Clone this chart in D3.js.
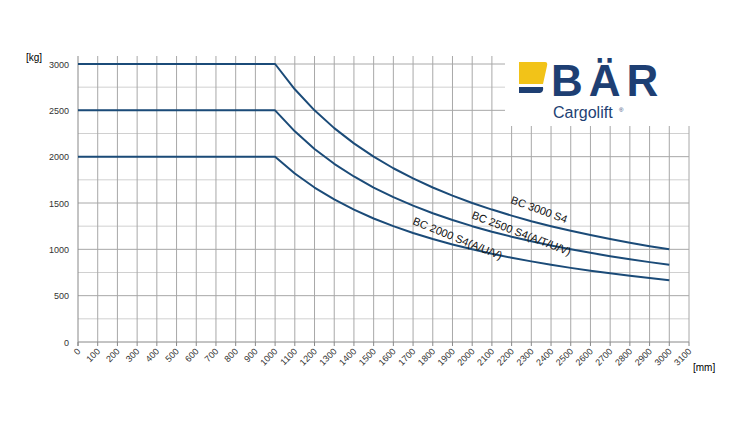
<!DOCTYPE html><html><head><meta charset="utf-8">
<script src="https://cdn.jsdelivr.net/npm/d3@7"></script>
<style>body{margin:0;background:#fff}text{font-family:Arial,"Liberation Sans",sans-serif}</style></head><body>
<svg id="c" width="750" height="421"></svg>
<script>
const xs = [0,1000,1100,1200,1300,1400,1500,1600,1700,1800,1900,2000,2100,2200,2300,2400,2500,2600,2700,2800,2900,3000];
const s3000 = [3000,3000,2727,2500,2308,2143,2000,1875,1765,1667,1579,1500,1429,1364,1304,1250,1200,1154,1111,1071,1034,1000];
const s2500 = [2500,2500,2273,2083,1923,1786,1667,1563,1471,1389,1316,1250,1190,1136,1087,1042,1000,962,926,893,862,833];
const s2000 = [2000,2000,1818,1667,1538,1429,1333,1250,1176,1111,1053,1000,952,909,870,833,800,769,741,714,690,667];
const xTicks = d3.range(0,3101,100);
const yTicks = [0,500,1000,1500,2000,2500,3000];
const seriesNames = ["BC 3000 S4","BC 2500 S4(A/T/U/V)","BC 2000 S4(A/U/V)"];

const svg=d3.select("#c");
const x=d3.scaleLinear().domain([0,3100]).range([78,689]);
const y=d3.scaleLinear().domain([0,3000]).range([342,64]);
const g=svg.append("g");
d3.range(250,3001,250).forEach(v=>g.append("line").attr("x1",x(0)).attr("x2",x(3100)).attr("y1",y(v)).attr("y2",y(v)).attr("stroke",v%500?"#d0d0d0":"#a8a8a8").attr("stroke-width",1));
xTicks.slice(1).forEach(v=>g.append("line").attr("x1",x(v)).attr("x2",x(v)).attr("y1",y(0)).attr("y2",56).attr("stroke","#a8a8a8"));
g.append("line").attr("x1",x(0)).attr("x2",x(0)).attr("y1",y(0)+4).attr("y2",56).attr("stroke","#888");
g.append("line").attr("x1",x(0)).attr("x2",x(3100)).attr("y1",y(0)).attr("y2",y(0)).attr("stroke","#888");
xTicks.forEach(v=>g.append("line").attr("x1",x(v)).attr("x2",x(v)).attr("y1",y(0)).attr("y2",y(0)+4).attr("stroke","#888"));
yTicks.forEach(v=>svg.append("text").attr("x",x(0)-9).attr("y",y(v)+3.5).attr("text-anchor","end").attr("font-size",9).attr("fill","#333").text(v));
xTicks.forEach(v=>svg.append("text").attr("transform",`translate(${x(v)+3},${y(0)+10}) rotate(-45)`).attr("text-anchor","end").attr("font-size",9).attr("fill","#333").text(v));
svg.append("text").attr("x",26).attr("y",61).attr("font-size",10).text("[kg]");
svg.append("text").attr("x",693).attr("y",371).attr("font-size",10).text("[mm]");
svg.append("rect").attr("x",505).attr("y",50).attr("width",186).attr("height",76).attr("fill","#fff");
svg.append("path").attr("d","M519,62 L545,62 Q548,62 547,66 L543,84 L519,84 Z").attr("fill","#f2c318");
svg.append("path").attr("d","M519,87 L543,87 Q544,92 540,93 L519,93 Z").attr("fill","#1e3f73");
svg.append("text").attr("x",551).attr("y",96).attr("font-size",44).attr("font-weight","bold").attr("fill","#1e3f73").attr("letter-spacing",6).text("BÄR");
svg.append("text").attr("x",553).attr("y",118).attr("font-size",16).attr("fill","#1e3f73").text("Cargolift");
svg.append("text").attr("x",619).attr("y",112).attr("font-size",6).attr("fill","#1e3f73").text("®");
const line=d3.line().x((d,i)=>x(xs[i])).y(d=>y(d)).curve(d3.curveLinear);
[s3000,s2500,s2000].forEach(s=>svg.append("path").attr("d",line(s)).attr("fill","none").attr("stroke","#1b4b78").attr("stroke-width",2).attr("stroke-linejoin","round"));
const lab=[[510,203,20],[471,218,21],[412,224,22]];
seriesNames.forEach((n,i)=>svg.append("text").attr("transform",`translate(${lab[i][0]},${lab[i][1]}) rotate(${lab[i][2]})`).attr("font-size",11).attr("fill","#111").text(n));
</script></body></html>
